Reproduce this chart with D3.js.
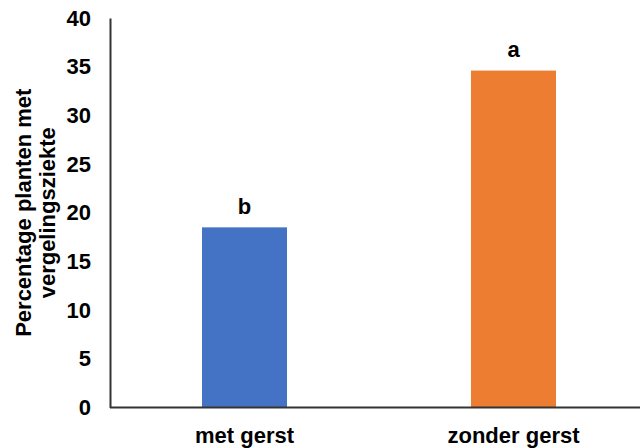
<!DOCTYPE html>
<html><head><meta charset="utf-8">
<script src="https://cdn.jsdelivr.net/npm/d3@7"></script>
<style>body{margin:0;background:#fff}svg{display:block}text{font-family:"Liberation Sans",Arial,sans-serif;font-weight:bold;fill:#000}</style>
</head><body><svg id="c" width="640" height="448"></svg>
<script>
const categories = ["met gerst", "zonder gerst"];
const values = [18.5, 34.6];
const letters = ["b", "a"];
const colors = ["#4472C4", "#ED7D31"];
const yTicks = [0, 5, 10, 15, 20, 25, 30, 35, 40];
const yTitle = ["Percentage planten met", "vergelingsziekte"];

(function () {
const svg = d3.select("#c");
const mLeft = 110, mRight = 648, mTop = 18, mBottom = 407.5;
const fs = 22;
const y = d3.scaleLinear().domain([0, 40]).range([mBottom, mTop]);
const x = d3.scaleBand().domain(categories).range([mLeft, mRight]).paddingInner(0.684).paddingOuter(0.342);

svg.selectAll("rect.bar").data(values).join("rect")
  .attr("class", "bar")
  .attr("x", (d, i) => x(categories[i]))
  .attr("width", x.bandwidth())
  .attr("y", d => y(d))
  .attr("height", d => y(0) - y(d))
  .attr("fill", (d, i) => colors[i]);

svg.selectAll("text.lab").data(values).join("text")
  .attr("class", "lab")
  .attr("x", (d, i) => x(categories[i]) + x.bandwidth() / 2)
  .attr("y", d => y(d) - 13.5)
  .attr("text-anchor", "middle")
  .attr("font-size", fs)
  .text((d, i) => letters[i]);

const yAxis = svg.append("g").attr("transform", `translate(${mLeft},0)`)
  .call(d3.axisLeft(y).tickValues(yTicks).tickSize(0).tickPadding(19));
yAxis.select(".domain").attr("stroke", "#333").attr("stroke-width", 2);
yAxis.selectAll("text").attr("font-size", fs).attr("font-family", "Liberation Sans, Arial, sans-serif").attr("font-weight", "bold").attr("fill", "#000");

const xAxis = svg.append("g").attr("transform", `translate(0,${mBottom})`)
  .call(d3.axisBottom(x).tickSize(0).tickPadding(20));
xAxis.select(".domain").remove();
xAxis.selectAll("text").attr("font-size", fs).attr("font-family", "Liberation Sans, Arial, sans-serif").attr("font-weight", "bold").attr("fill", "#000");
svg.append("line").attr("x1", mLeft).attr("x2", 640).attr("y1", mBottom).attr("y2", mBottom)
  .attr("stroke", "#333").attr("stroke-width", 2);

const t = svg.append("text").attr("transform", `translate(0,${(mTop + mBottom) / 2}) rotate(-90)`)
  .attr("text-anchor", "middle").attr("font-size", fs);
t.selectAll("tspan").data(yTitle).join("tspan")
  .attr("x", 0).attr("y", (d, i) => 31 + i * 24).text(d => d);
})();
</script></body></html>
